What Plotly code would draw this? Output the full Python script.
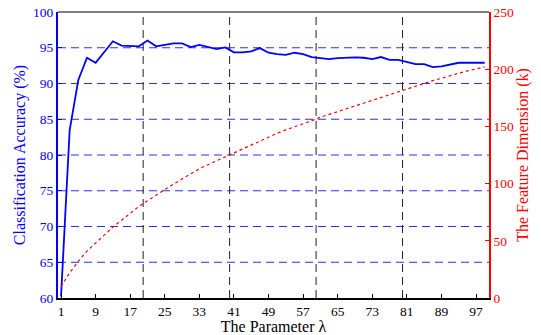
import plotly.graph_objects as go

lam = list(range(1, 100, 2))
accuracy = [60.2, 83.5, 90.5, 93.6, 92.9, 94.4, 95.9, 95.3, 95.3, 95.2,
            96.0, 95.2, 95.4, 95.6, 95.6, 95.1, 95.4, 95.1, 94.8, 95.05,
            94.35, 94.35, 94.5, 94.95, 94.3, 94.1, 94.0, 94.3, 94.1, 93.7,
            93.6, 93.4, 93.55, 93.65, 93.65, 93.6, 93.4, 93.7, 93.3, 93.3,
            93.0, 92.7, 92.7, 92.3, 92.4, 92.6, 92.9, 92.9, 92.9, 92.9]
feature_dim = [10, 22, 32, 41, 48, 55, 62, 68, 74, 80,
               85, 90, 95, 99.5, 104, 108.5, 113, 116.5, 120, 123.5,
               127, 130.5, 134, 137.5, 141, 144, 147, 149.5, 152, 155,
               158, 160.5, 163, 165.5, 168, 170.5, 173, 175.5, 178, 180.5,
               183, 185, 187.5, 190, 192, 194.5, 196.5, 198.5, 200.5, 202]
x_ticks = [1, 9, 17, 25, 33, 41, 49, 57, 65, 73, 81, 89, 97]
x_grid = [20, 40, 60, 80]
acc_ticks = [60, 65, 70, 75, 80, 85, 90, 95, 100]
acc_grid = [65, 70, 75, 80, 85, 90, 95]
dim_ticks = [0, 50, 100, 150, 200, 250]

FONT = "Liberation Serif"
BLUE = "#0000ff"
RED = "#ff0000"
XR = [0.3, 100]

fig = go.Figure()
fig.add_trace(go.Scatter(x=lam, y=feature_dim, mode="lines", xaxis="x", yaxis="y2",
                         line=dict(color=RED, width=1.2, dash="dot"), showlegend=False))
fig.add_trace(go.Scatter(x=lam, y=accuracy, mode="lines", xaxis="x", yaxis="y",
                         line=dict(color=BLUE, width=1.8), showlegend=False))

for gy in acc_grid:
    fig.add_shape(type="line", xref="paper", yref="y", x0=0, x1=1, y0=gy, y1=gy,
                  layer="below", line=dict(color="#2e2eff", width=1.2, dash="8px,5px"))
for gx in x_grid:
    fig.add_shape(type="line", xref="x", yref="paper", x0=gx, x1=gx, y0=0, y1=1,
                  layer="below", line=dict(color="#222222", width=1, dash="8px,5px"))

fig.update_layout(
    width=541, height=335,
    margin=dict(l=58, r=52, t=12, b=37),
    plot_bgcolor="white", paper_bgcolor="white",
    font=dict(family=FONT, size=13, color="black"),
    xaxis=dict(range=XR, tickvals=x_ticks, showgrid=False, zeroline=False, automargin=False,
               ticks="inside", ticklen=4, tickcolor="black",
               showline=True, linecolor="black", linewidth=2, mirror=False,
               tickfont=dict(family=FONT, size=13.5, color="black"),
               title=dict(text="The Parameter λ", font=dict(family=FONT, size=16, color="black"), standoff=0)),
    yaxis=dict(range=[60, 100], tickvals=acc_ticks, showgrid=False, zeroline=False, automargin=False,
               ticks="inside", ticklen=4, tickcolor=BLUE,
               showline=True, linecolor=BLUE, linewidth=2,
               tickfont=dict(family=FONT, size=13.5, color=BLUE),
               title=dict(text="Classification Accuracy (%)", font=dict(family=FONT, size=16, color=BLUE), standoff=3)),
    yaxis2=dict(range=[0, 250], tickvals=dim_ticks, overlaying="y", side="right", automargin=False,
                showgrid=False, zeroline=False, ticks="inside", ticklen=4, tickcolor=RED,
                showline=True, linecolor=RED, linewidth=1.5,
                tickfont=dict(family=FONT, size=13.5, color=RED),
                title=dict(text="The Feature Dimension (k)", font=dict(family=FONT, size=16, color=RED), standoff=4)),
)
fig.add_shape(type="line", xref="paper", yref="paper", x0=0, x1=1, y0=1, y1=1,
              line=dict(color="black", width=1))

fig.write_html("out.html", config={"displayModeBar": False},
               post_script="document.body.style.margin='0';document.body.style.overflow='hidden';")
